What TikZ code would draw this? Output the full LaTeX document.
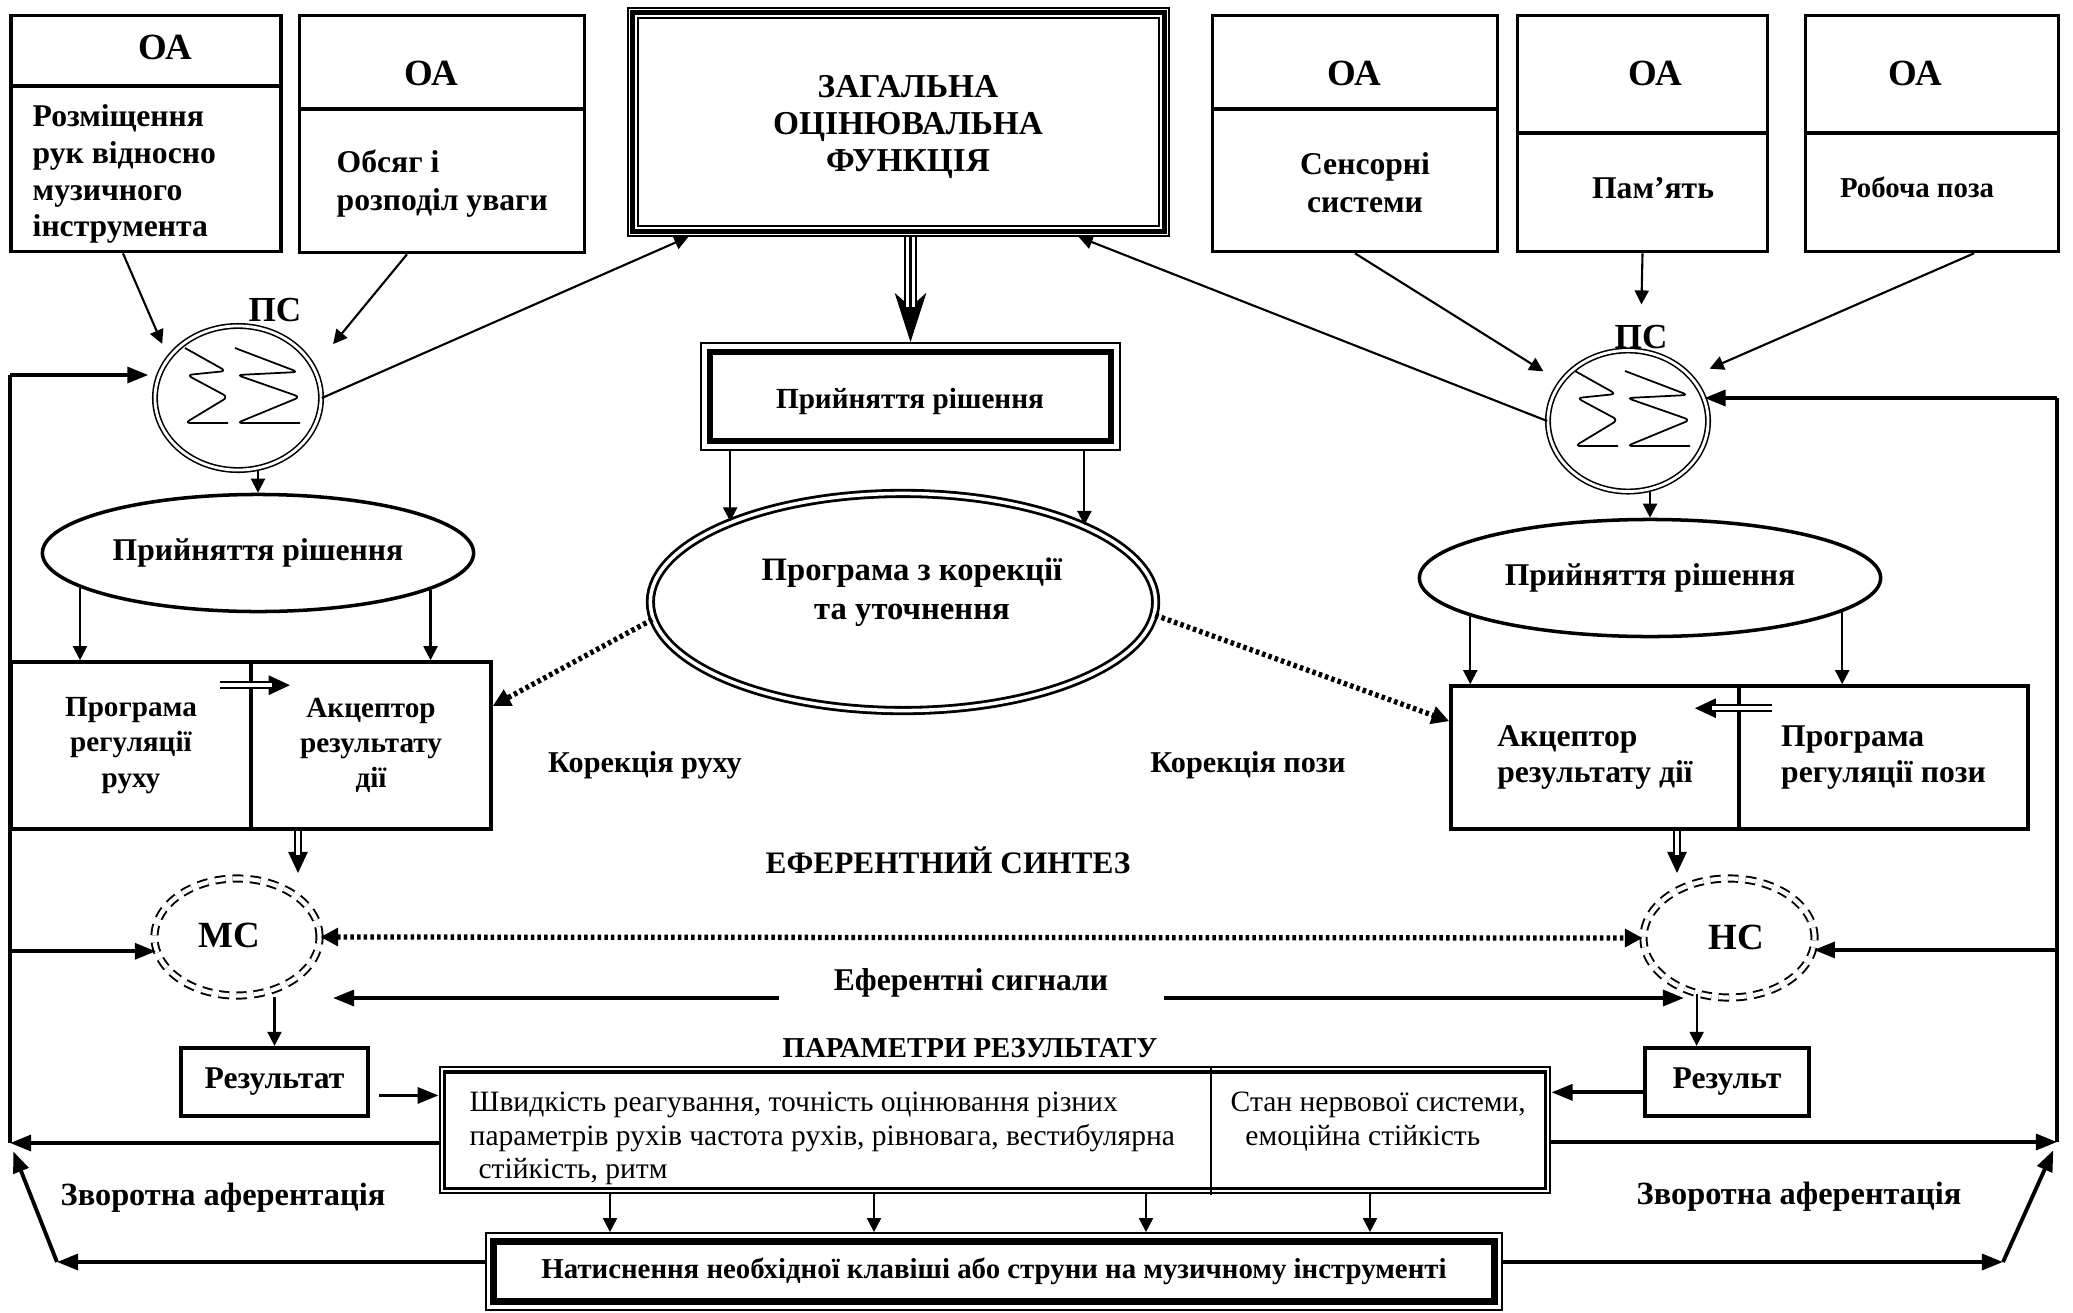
\documentclass[tikz,border=0pt]{standalone}
\usepackage{fontspec}
\setmainfont{Liberation Serif}
\usetikzlibrary{arrows.meta,shapes.geometric}

\tikzset{
  >={Triangle[length=4pt,width=4pt]},
  txt/.style={inner sep=0pt, align=center, font=\fontsize{9}{10.5}\selectfont\bfseries},
  box/.style={draw, line width=1pt, inner sep=0pt, align=center, font=\fontsize{9}{10.5}\selectfont\bfseries},
  oval/.style={ellipse, draw, line width=1pt, inner sep=0pt, font=\fontsize{9}{10.5}\selectfont\bfseries},
  sumnode/.style={ellipse, draw, double, double distance=0.8pt, line width=0.45pt, inner sep=0pt},
  signode/.style={ellipse, draw, double, double distance=1.2pt, line width=0.55pt, dash pattern=on 3pt off 2pt, inner sep=0pt, font=\fontsize{10.5}{12}\selectfont\bfseries},
  tribox/.style={draw, line width=1.4pt, preaction={draw, line width=3.3pt}, preaction={draw=white, line width=2.4pt}, outer sep=1.65pt, inner sep=0pt, align=center},
  arr/.style={->, line width=0.6pt},
  fb/.style={line width=1.1pt},
  fbarr/.style={fb, -{Triangle[length=6pt,width=4.5pt]}},
  dotarr/.style={line width=1.5pt, dash pattern=on 1pt off 0.9pt, -{Triangle[length=5pt,width=5pt]}},
  dblarr/.style={line width=0.5pt, -{Triangle[length=6pt,width=5.5pt]},
    postaction={draw, arrows=-, double, double distance=1.3pt, line width=0.5pt, shorten >=5pt}},
  triarr/.style={line width=0.5pt, -{Stealth[length=14pt,width=9pt,inset=4pt]},
    postaction={draw, arrows=-, double, double distance=2.6pt, line width=0.5pt, shorten >=10pt},
    postaction={draw, arrows=-, line width=0.6pt, shorten >=10pt}},
}

% the two zigzag marks inside a ПС circle
\newcommand\sumglyph[1]{%
  \begin{scope}[shift={(#1)}, line width=0.5pt, rounded corners=1.5pt]
    \draw (-53,-50) -- (-12,-27) -- (-51,-23) -- (-10,-1) -- (-53,25) -- (-10,25);
    \draw (-3,-50) -- (60,-26) -- (-1,-23) -- (62,-1) -- (-1,25) -- (62,25);
  \end{scope}}

\begin{document}
\begin{tikzpicture}[x=0.01cm, y=-0.01cm]
\useasboundingbox (0,0) rectangle (2073,1312);

% afferent boxes, left
\node[box, minimum width=2.70cm, minimum height=2.36cm] (oa1) at (146,133.5) {};
\draw[line width=1pt] (9,86) -- (283,86);
\node[txt, font=\fontsize{10.5}{12}\selectfont\bfseries] at (165,47) {ОА};
\node[txt, anchor=west, align=left] at (32,174) {Розміщення\\рук відносно\\музичного\\інструмента};
\node[box, minimum width=2.85cm, minimum height=2.37cm] (oa2) at (442,134) {};
\draw[line width=1pt] (298,109) -- (586,109);
\node[txt, font=\fontsize{10.5}{12}\selectfont\bfseries] at (431,73) {ОА};
\node[txt, anchor=west, align=left, font=\fontsize{9}{10.8}\selectfont\bfseries] at (336,184) {Обсяг і\\розподіл уваги};

% afferent boxes, right
\node[box, minimum width=2.85cm, minimum height=2.36cm] (oa3) at (1355,133.5) {};
\draw[line width=1pt] (1211,109) -- (1499,109);
\node[txt, font=\fontsize{10.5}{12}\selectfont\bfseries] at (1354,73) {ОА};
\node[txt, font=\fontsize{9}{10.8}\selectfont\bfseries] at (1365,183) {Сенсорні\\системи};
\node[box, minimum width=2.50cm, minimum height=2.36cm] (oa4) at (1642.5,133.5) {};
\draw[line width=1pt] (1516,133) -- (1769,133);
\node[txt, font=\fontsize{10.5}{12}\selectfont\bfseries] at (1655,73) {ОА};
\node[txt] at (1653,188) {Пам’ять};
\node[box, minimum width=2.53cm, minimum height=2.36cm] (oa5) at (1932,133.5) {};
\draw[line width=1pt] (1804,133) -- (2060,133);
\node[txt, font=\fontsize{10.5}{12}\selectfont\bfseries] at (1915,73) {ОА};
\node[txt, font=\fontsize{8.2}{10}\selectfont\bfseries] at (1917,187) {Робоча поза};

% general evaluation and decision
\node[tribox, minimum width=5.31cm, minimum height=2.18cm] (zof) at (898.5,122) {};
\node[txt, font=\fontsize{9.5}{10.4}\selectfont\bfseries] at (908,127) {ЗАГАЛЬНА\\ОЦІНЮВАЛЬНА\\ФУНКЦІЯ};
\node[draw, line width=0.5pt, minimum width=4.19cm, minimum height=1.07cm, inner sep=0pt, font=\fontsize{8.3}{10}\selectfont\bfseries] (dec) at (910.5,396.5) {};
\draw[line width=1.8pt] ([shift={(10,10)}]dec.north west) rectangle ([shift={(-10,-10)}]dec.south east);
\node[txt, font=\fontsize{8.3}{10}\selectfont\bfseries] at (910,401) {Прийняття рішення};
\node[ellipse, draw, double, double distance=1pt, line width=0.8pt, inner sep=0pt, minimum width=5.05cm, minimum height=2.17cm] (prog) at (903,602) {};
\node[txt, font=\fontsize{9.3}{11}\selectfont\bfseries] at (912,592) {Програма з корекції\\та уточнення};

% ПС nodes
\node[sumnode, minimum width=1.66cm, minimum height=1.44cm] (ps1) at (238,398) {};
\sumglyph{ps1.center}
\node[txt, font=\fontsize{10}{12}\selectfont\bfseries] (ps1lbl) at (275,310) {ПС};
\node[sumnode, minimum width=1.60cm, minimum height=1.41cm] (ps2) at (1628,421) {};
\sumglyph{ps2.center}
\node[txt, font=\fontsize{10}{12}\selectfont\bfseries] (ps2lbl) at (1641,337) {ПС};

% decisions and programs
\node[oval, minimum width=4.31cm, minimum height=1.17cm] (dl) at (258,553) {Прийняття рішення};
\node[oval, minimum width=4.61cm, minimum height=1.17cm] (dr) at (1650,578) {Прийняття рішення};
\node[box, minimum width=2.40cm, minimum height=1.67cm, font=\fontsize{8.3}{10}\selectfont\bfseries] (lprog) at (131,745.5) {Програма\\регуляції\\руху};
\node[box, minimum width=2.40cm, minimum height=1.67cm, font=\fontsize{8.3}{10}\selectfont\bfseries] (lacc) at (371,745.5) {Акцептор\\результату\\дії};
\node[box, minimum width=2.88cm, minimum height=1.43cm, align=left, font=\fontsize{9}{10.3}\selectfont\bfseries] (racc) at (1595,757.5) {Акцептор\\результату дії};
\node[box, minimum width=2.89cm, minimum height=1.43cm, align=left, font=\fontsize{9}{10.3}\selectfont\bfseries] (rprog) at (1883.5,757.5) {Програма\\регуляції пози};

\node[txt, font=\fontsize{8.6}{10}\selectfont\bfseries] (korr) at (645,765) {Корекція руху};
\node[txt, font=\fontsize{8.6}{10}\selectfont\bfseries] (korp) at (1248,765) {Корекція пози};
\node[txt, font=\fontsize{8.9}{10}\selectfont\bfseries] (efs) at (948,860) {ЕФЕРЕНТНИЙ СИНТЕЗ};

% efferent side
\node[signode, minimum width=1.65cm, minimum height=1.17cm] (ms) at (237,937) {};
\node[txt, font=\fontsize{10.5}{12}\selectfont\bfseries] at (229,935) {МС};
\node[signode, minimum width=1.71cm, minimum height=1.19cm] (ns) at (1729,938) {};
\node[txt, font=\fontsize{10.5}{12}\selectfont\bfseries] at (1736,937) {НС};
\node[txt] (sig) at (971,983) {Еферентні сигнали};
\node[box, line width=1.2pt, minimum width=1.87cm, minimum height=0.68cm] (res1) at (274.5,1082) {Результат};
\node[box, line width=1.2pt, minimum width=1.64cm, minimum height=0.68cm] (res2) at (1727,1082) {Результ};
\node[txt, font=\fontsize{8.2}{10}\selectfont\bfseries] (parlbl) at (970,1048) {ПАРАМЕТРИ РЕЗУЛЬТАТУ};

% result parameters
\node[draw, line width=0.6pt, minimum width=11.10cm, minimum height=1.26cm, inner sep=0pt] (par) at (995,1130) {};
\draw[line width=0.9pt] ([shift={(6,6)}]par.north west) rectangle ([shift={(-6,-6)}]par.south east);
\draw[line width=0.5pt] (1211,1067) -- (1211,1195);
\node[inner sep=0pt, anchor=west, align=left, font=\fontsize{8.4}{9.5}\selectfont] at (469,1138.5) {Швидкість реагування, точність оцінювання різних\\параметрів рухів частота рухів, рівновага, вестибулярна\\\hspace*{0.3em}стійкість, ритм};
\node[inner sep=0pt, anchor=west, align=left, font=\fontsize{8.4}{9.5}\selectfont] at (1230,1121.5) {Стан нервової системи,\\\hspace*{0.5em}емоційна стійкість};
\node[draw, line width=0.5pt, minimum width=10.16cm, minimum height=0.77cm, inner sep=0pt, font=\fontsize{8.2}{10}\selectfont\bfseries] (press) at (994,1271.5) {Натиснення необхідної клавіші або струни на музичному інструменті};
\draw[line width=2pt] ([shift={(9,9)}]press.north west) rectangle ([shift={(-9,-9)}]press.south east);

\node[txt, font=\fontsize{9.2}{10}\selectfont\bfseries] (zv1) at (223,1198) {Зворотна аферентація};
\node[txt, font=\fontsize{9.2}{10}\selectfont\bfseries] (zv2) at (1799,1197) {Зворотна аферентація};

% connectors, top
\draw[arr, shorten >=0.15cm] ([xshift=-0.23cm]oa1.south) -- (ps1.150);
\draw[arr, shorten >=0.3cm] ([xshift=-0.35cm]oa2.south) -- (ps1.22);
\draw[arr] (ps1.east) -- ([xshift=-2.1cm]zof.south);
\draw[arr] (ps2.west) -- ([xshift=1.8cm]zof.south);
\draw[arr, shorten >=0.2cm] (oa3.south) -- (ps2.150);
\draw[arr, shorten >=0.2cm] (oa4.south) -- (ps2lbl.north);
\draw[arr, shorten >=0.2cm] ([xshift=0.42cm]oa5.south) -- (ps2.35);
\draw[triarr] (zof.south -| dec.north) -- (dec.north);
\draw[arr] (dec.south -| prog.155) -- (prog.155);
\draw[arr] (dec.south -| prog.23) -- (prog.23);
\draw[arr] (ps1.south -| dl.north) -- (dl.north);
\draw[arr] (ps2.south -| dr.north) -- (dr.north);
\draw[arr] (dl.191) -- (dl.191 |- lprog.north);
\draw[arr] (dl.-12) -- (dl.-12 |- lacc.north);
\draw[arr] (dr.192) -- (dr.192 |- racc.north);
\draw[arr] (dr.-10) -- (dr.-10 |- rprog.north);
\draw[dotarr] (prog.184) -- (lacc.18);
\draw[dotarr] (prog.-3) -- (racc.166);
\draw[dblarr] ([shift={(-33,25)}]lprog.north east) -- ([shift={(37,25)}]lprog.north east);
\draw[dblarr] ([shift={(31,24)}]racc.north east) -- ([shift={(-46,24)}]racc.north east);

% connectors, efferent
\coordinate (msin) at (298,873);
\coordinate (nsin) at (1677,873);
\draw[dblarr] (lacc.south -| msin) -- (msin);
\draw[dblarr] (racc.south -| nsin) -- (nsin);
\draw[dotarr, {Triangle[length=5pt,width=5pt]}-{Triangle[length=5pt,width=5pt]}] (ms.east) -- (ns.west);
\coordinate (sigl) at (779,998);
\coordinate (sigr) at (1164,998);
\coordinate (sigltip) at (333,998);
\coordinate (sigrtip) at (1684,998);
\draw[fbarr] (sigl) -- (sigltip);
\draw[fbarr] (sigr) -- (sigrtip);
\draw[arr] (res1.north |- ms.south) -- (res1.north);
\draw[arr] (ns.240) -- (ns.240 |- res2.north);
\draw[fbarr, shorten <=0.09cm] (res1.-8) -- (par.west |- res1.-8);
\draw[fbarr] (res2.187) -- (par.east |- res2.187);
\foreach \x in {610,874,1146,1370}{
  \coordinate (px) at (\x,0);
  \draw[arr] (par.south -| px) -- (press.north -| px);
}

% feedback loops
\coordinate (lt) at (10,375);
\coordinate (lb) at (10,1143);
\coordinate (lc) at (57,1262);
\coordinate (rt) at (2057,398);
\coordinate (rb) at (2057,1142);
\coordinate (rc) at (2003,1262);
\draw[fb] (lb) -- (lt);
\draw[fbarr, shorten >=0.1cm] (lt) -- (lt -| ps1.164);
\draw[fbarr] (lt |- ms.190) -- (ms.190);
\draw[fbarr] (par.west |- lb) -- (lb);
\draw[fbarr] (press.west |- lc) -- (lc);
\draw[fbarr, shorten >=0.09cm] (lc) -- (lb);
\draw[fb] (rb) -- (rt);
\draw[fbarr] (rt) -- (rt -| ps2.17);
\draw[fbarr] (rt |- ns.-8) -- (ns.-8);
\draw[fbarr] (par.east |- rb) -- (rb);
\draw[fbarr] (press.east |- rc) -- (rc);
\draw[fbarr, shorten >=0.09cm] (rc) -- (rb);
\end{tikzpicture}
\end{document}
